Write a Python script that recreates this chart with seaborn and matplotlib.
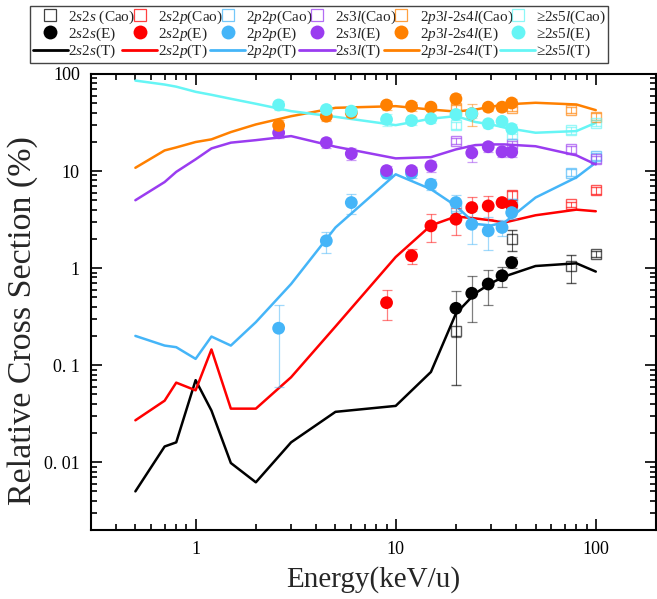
import numpy as np
import pandas as pd
import matplotlib
matplotlib.use('Agg')
import matplotlib.pyplot as plt
import seaborn as sns
from matplotlib.lines import Line2D
from matplotlib.ticker import LogLocator, NullFormatter

# ---------------------------------------------------------------------------
# data
# ---------------------------------------------------------------------------
PROCESSES = ['2s2s', '2s2p', '2p2p', '2s3l', '2p3l-2s4l', '2s5l']
LABELS = ['$2s2s$', '$2s2p$', '$2p2p$', '$2s3l$', '$2p3l$-$2s4l$', '\u2265$2s5l$']
COLORS = ['#000000', '#FF0000', '#45B5F8', '#9A3CF0', '#FF8000', '#66F5F5']

# theory (T)
E_T = [0.5, 0.7, 0.8, 1, 1.2, 1.5, 2, 3, 5, 10, 15, 20, 25, 30, 35, 50, 80, 100]
T_2s2s = [0.005, 0.0145, 0.016, 0.07, 0.034, 0.0098, 0.0062, 0.016, 0.033, 0.038,
          0.085, 0.34, 0.55, 0.70, 0.82, 1.05, 1.12, 0.92]
T_2s2p = [0.027, 0.043, 0.066, 0.055, 0.145, 0.0356, 0.0356, 0.075, 0.25, 1.3,
          2.75, 3.4, 3.25, 3.1, 2.95, 3.5, 4.0, 3.85]
T_2p2p = [0.20, 0.159, 0.153, 0.116, 0.197, 0.159, 0.277, 0.685, 2.62, 9.25,
          6.5, 4.37, 2.85, 2.75, 2.95, 5.33, 8.6, 12.2]
T_2s3l = [5.0, 7.7, 9.8, 13.2, 17.1, 19.6, 20.8, 22.9, 17.8, 13.5,
          13.9, 16.7, 18.5, 18.8, 18.8, 18.0, 14.5, 11.7]
T_2p3l = [10.8, 16.3, 17.5, 19.9, 21.2, 25.2, 30.2, 36.7, 44.8, 46.6,
          43.0, 41.0, 43.0, 46.0, 48.5, 50.5, 48.5, 42.4]
T_2s5l = [85.5, 77.8, 74.0, 65.5, 61.0, 55.5, 49.3, 41.4, 36.2, 29.7,
          34.6, 36.8, 32.0, 30.2, 28.0, 24.8, 25.8, 31.4]

# experiment (E)
nan = np.nan
E_E = [2.6, 4.5, 6.0, 9, 12, 15, 20, 24, 29, 34, 38]
E_2s2s = [nan, nan, nan, nan, nan, nan, 0.385, 0.55, 0.685, 0.834, 1.14]
ERR_2s2s = [nan, nan, nan, nan, nan, nan, 0.19, 0.27, 0.27, 0.19, 0.15]
E_2s2p = [nan, nan, nan, 0.44, 1.34, 2.72, 3.19, 4.2, 4.37, 4.73, 4.37]
ERR_2s2p = [nan, nan, nan, 0.15, 0.25, 0.85, 1.0, 1.2, 1.15, 0.4, 0.4]
E_2p2p = [0.24, 1.91, 4.73, 9.5, 9.5, 7.3, 4.73, 2.83, 2.42, 2.62, 3.73]
ERR_2p2p = [0.18, 0.47, 1.1, 1.0, 1.0, 1.0, 0.9, 1.05, 0.9, 0.5, 0.5]
E_2s3l = [24.8, 19.6, 15.1, 10.1, 10.1, 11.3, nan, 15.4, 17.8, 15.8, 15.7]
ERR_2s3l = [3, 2.5, 2, 1.2, 1, 1.5, nan, 3, 2, 1.8, 1.8]
E_2p3l = [29.5, 36.7, 39.8, 47.9, 46.6, 45.5, 55.5, 39, 45.5, 45.5, 50.2]
ERR_2p3l = [4, 4, 4, 5, 5, 4, 7, 10, 4, 4, 5]
E_2s5l = [47.9, 43, 41.4, 34, 33.1, 34.6, 38.2, 39, 30.7, 32.5, 27.3]
ERR_2s5l = [5, 4, 4, 5, 3, 3, 4, 4, 3, 3, 3]

# Cao et al.
E_CAO = [20, 38, 75, 100]
CAO_2s2s = [0.227, 1.99, 1.04, 1.39]
CERR_2s2s = [0.165, 0.5, 0.33, 0.1]
CAO_2s2p = [nan, 5.6, 4.55, 6.35]
CERR_2s2p = [nan, 0.6, 0.3, 0.5]
CAO_2p2p = [4.2, 4.6, 9.6, 14.3]
CERR_2p2p = [0.5, 0.5, 0.8, 1.2]
CAO_2s3l = [20.3, 18.8, 16.7, 13.2]
CERR_2s3l = [1.5, 1.5, 1.2, 1.0]
CAO_2p3l = [45, 44.7, 43, 36.2]
CERR_2p3l = [3, 3, 3, 3]
CAO_2s5l = [29.5, 23.8, 26.3, 31.4]
CERR_2s5l = [2.5, 2.5, 2, 2]

T_ALL = [T_2s2s, T_2s2p, T_2p2p, T_2s3l, T_2p3l, T_2s5l]
E_ALL = [E_2s2s, E_2s2p, E_2p2p, E_2s3l, E_2p3l, E_2s5l]
ERR_ALL = [ERR_2s2s, ERR_2s2p, ERR_2p2p, ERR_2s3l, ERR_2p3l, ERR_2s5l]
CAO_ALL = [CAO_2s2s, CAO_2s2p, CAO_2p2p, CAO_2s3l, CAO_2p3l, CAO_2s5l]
CERR_ALL = [CERR_2s2s, CERR_2s2p, CERR_2p2p, CERR_2s3l, CERR_2p3l, CERR_2s5l]

# ---------------------------------------------------------------------------
# style
# ---------------------------------------------------------------------------
sns.set_style('ticks')
plt.rcParams['font.family'] = ['Liberation Serif', 'DejaVu Serif']
plt.rcParams['mathtext.fontset'] = 'custom'
plt.rcParams['mathtext.rm'] = 'Liberation Serif'
plt.rcParams['mathtext.it'] = 'Liberation Serif:italic'

fig = plt.figure(figsize=(6.57, 5.99), dpi=100)
ax = fig.add_axes([0.1385, 0.1152, 0.8600, 0.7613])
ax.set_xscale('log')
ax.set_yscale('log')

# theory lines
df_T = pd.DataFrame({
    'Energy': E_T * len(PROCESSES),
    'Value': sum(T_ALL, []),
    'Process': [p for p in PROCESSES for _ in E_T],
})
sns.lineplot(data=df_T, x='Energy', y='Value', hue='Process',
             palette=dict(zip(PROCESSES, COLORS)), linewidth=1.8,
             legend=False, ax=ax, zorder=2)

# Cao data: open squares
for vals, errs, c in zip(CAO_ALL, CERR_ALL, COLORS):
    ax.errorbar(E_CAO, vals, yerr=errs, fmt='s', ms=7.5, mfc='none', mec=c,
                mew=1.0, ecolor=c, elinewidth=0.8, capsize=3.8, capthick=0.8,
                alpha=0.65, zorder=3)

# experiment: filled circles with lighter error bars
for vals, errs, c in zip(E_ALL, ERR_ALL, COLORS):
    ax.errorbar(E_E, vals, yerr=errs, fmt='none', ecolor=c, elinewidth=0.9,
                capsize=3.6, capthick=0.9, alpha=0.5, zorder=4)
for vals, p, c in zip(E_ALL, PROCESSES, COLORS):
    df_E = pd.DataFrame({'Energy': E_E, 'Value': vals}).dropna()
    sns.scatterplot(data=df_E, x='Energy', y='Value', color=c, s=85,
                    edgecolor='none', ax=ax, zorder=5)

# axes
ax.set_xlim(0.3, 200)
ax.set_ylim(0.002, 100)
ax.set_xticks([1, 10, 100])
ax.set_xticklabels(['1', '10', '100'])
ax.set_yticks([0.01, 0.1, 1, 10, 100])
ax.set_yticklabels(['0. 01', '0. 1', '1', '10', '100'])
ax.xaxis.set_minor_locator(LogLocator(base=10, subs=np.arange(2, 10)))
ax.yaxis.set_minor_locator(LogLocator(base=10, subs=np.arange(2, 10)))
ax.xaxis.set_minor_formatter(NullFormatter())
ax.yaxis.set_minor_formatter(NullFormatter())
ax.tick_params(which='both', direction='in', top=True, right=True,
               labelsize=13, width=1.2, colors='black')
ax.tick_params(which='major', length=8, pad=8)
ax.tick_params(which='minor', length=4)
for s in ax.spines.values():
    s.set_linewidth(1.5)
    s.set_color('black')
ax.set_xlabel('Energy(keV/u)', fontsize=21, labelpad=6)
ax.set_ylabel('Relative Cross Section (%)', fontsize=24.5)
ax.yaxis.set_label_coords(-0.094, 0.46)

# legend: Cao / E / T for each process, column-wise
handles, labels = [], []
for i, (lab, c) in enumerate(zip(LABELS, COLORS)):
    handles.append(Line2D([], [], ls='none', marker='s', ms=8.5, mfc='none',
                          mec=c, mew=0.9, alpha=0.75))
    labels.append(lab + (' (Cao)' if i == 0 else '(Cao)'))
    handles.append(Line2D([], [], ls='none', marker='o', ms=10, mfc=c, mec='none'))
    labels.append(lab + '(E)')
    handles.append(Line2D([], [], color=c, lw=2))
    labels.append(lab + '(T)')
fig.legend(handles, labels, ncol=6, loc='upper left',
           bbox_to_anchor=(0.046, 0.0, 0.88, 0.99), mode='expand',
           frameon=True, fancybox=False, edgecolor='#444444', framealpha=1,
           fontsize=11, handlelength=2.3, handletextpad=0.05,
           columnspacing=0.3, labelspacing=0.0, borderaxespad=0,
           borderpad=0.15)

fig.savefig('out.png', dpi=100)
